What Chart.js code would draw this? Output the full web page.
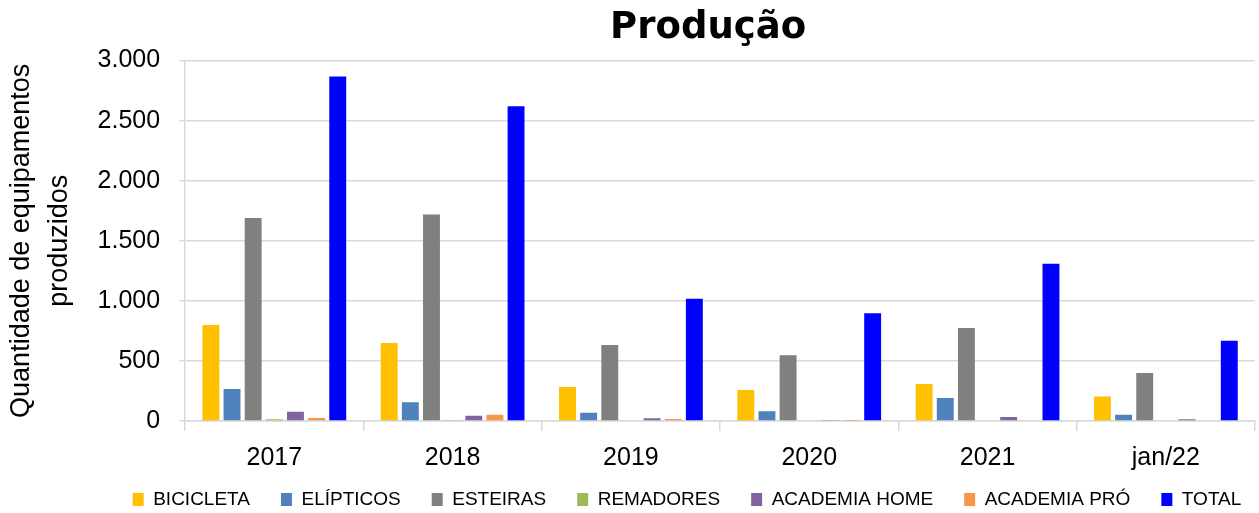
<!DOCTYPE html>
<html>
<head>
<meta charset="utf-8">
<script src="https://cdn.jsdelivr.net/npm/chart.js@4.4.1/dist/chart.umd.min.js"></script>
<style>
  html, body { margin: 0; background: #fff; }
  #wrap { width: 1259px; height: 513px; }
</style>
</head>
<body>
<div id="wrap"><canvas id="producao"></canvas></div>
<script>
const categories = ['2017', '2018', '2019', '2020', '2021', 'jan/22'];
const bicicleta     = [800, 650, 283, 258, 308, 203];
const elipticos     = [267, 156, 69, 81, 192, 53];
const esteiras      = [1689, 1719, 633, 547, 775, 400];
const remadores     = [15, 5, 0, 0, 0, 0];
const academiaHome  = [78, 44, 22, 8, 33, 14];
const academiaPro   = [25, 53, 17, 3, 0, 0];
const total         = [2867, 2619, 1017, 897, 1308, 667];
const yTicks = [0, 500, 1000, 1500, 2000, 2500, 3000];

const FONT = "'Liberation Sans', Arial, sans-serif";
const fmt = v => String(v).replace(/\B(?=(\d{3})+(?!\d))/g, '.');

const series = [
  ['BICICLETA', bicicleta, '#FFC000'],
  ['ELÍPTICOS', elipticos, '#4F81BD'],
  ['ESTEIRAS', esteiras, '#808080'],
  ['REMADORES', remadores, '#9BBB59'],
  ['ACADEMIA HOME', academiaHome, '#8064A2'],
  ['ACADEMIA PRÓ', academiaPro, '#F79646'],
  ['TOTAL', total, '#0000FF'],
];

// nudge title / legend boxes the way the original sheet lays them out
const nudgeBoxes = {
  id: 'nudgeBoxes',
  afterLayout(chart) {
    const { legend, titleBlock } = chart;
    if (legend) { legend.left += 58; legend.right += 58; legend.top -= 26; }
    if (titleBlock) { titleBlock.left -= 12; titleBlock.right -= 12; }
  }
};

new Chart('producao', {
  type: 'bar',
  data: {
    labels: categories,
    datasets: series.map(([label, data, color]) => ({
      label, data,
      backgroundColor: color,
      borderWidth: 0,
      categoryPercentage: 0.83,
      barPercentage: 0.8,
    }))
  },
  plugins: [nudgeBoxes],
  options: {
    responsive: true,
    maintainAspectRatio: false,
    animation: false,
    layout: { padding: { left: 3, right: 4, top: 0, bottom: 0 } },
    plugins: {
      title: {
        display: true,
        fullSize: false,
        text: 'Produção',
        color: '#000',
        font: { family: "'DejaVu Sans', Verdana, sans-serif", size: 37, weight: 'bold', lineHeight: 1.15 },
        padding: { top: 7, bottom: 11 },
      },
      legend: {
        position: 'bottom',
        maxHeight: 28,
        labels: {
          color: '#000',
          boxWidth: 11,
          boxHeight: 13,
          padding: 31,
          font: { family: FONT, size: 19 },
        }
      },
      tooltip: { enabled: false },
    },
    scales: {
      x: {
        grid: { drawOnChartArea: false, color: '#d9d9d9', tickLength: 10, lineWidth: 1.5 },
        border: { color: '#d9d9d9', width: 1.5 },
        ticks: { color: '#000', font: { family: FONT, size: 25 }, padding: 12 },
      },
      y: {
        min: 0,
        max: 3000,
        afterBuildTicks: axis => { axis.ticks = yTicks.map(value => ({ value })); },
        grid: { color: '#d9d9d9', lineWidth: 1.5, tickLength: 6 },
        border: { color: '#d9d9d9', width: 1.5 },
        ticks: { color: '#000', font: { family: FONT, size: 25 }, padding: 19, callback: v => fmt(v) },
        title: {
          display: true,
          text: ['Quantidade de equipamentos', 'produzidos'],
          color: '#000',
          font: { family: FONT, size: 27, lineHeight: 1.4 },
          padding: { top: 0, bottom: 0 },
        }
      }
    }
  }
});
</script>
</body>
</html>
